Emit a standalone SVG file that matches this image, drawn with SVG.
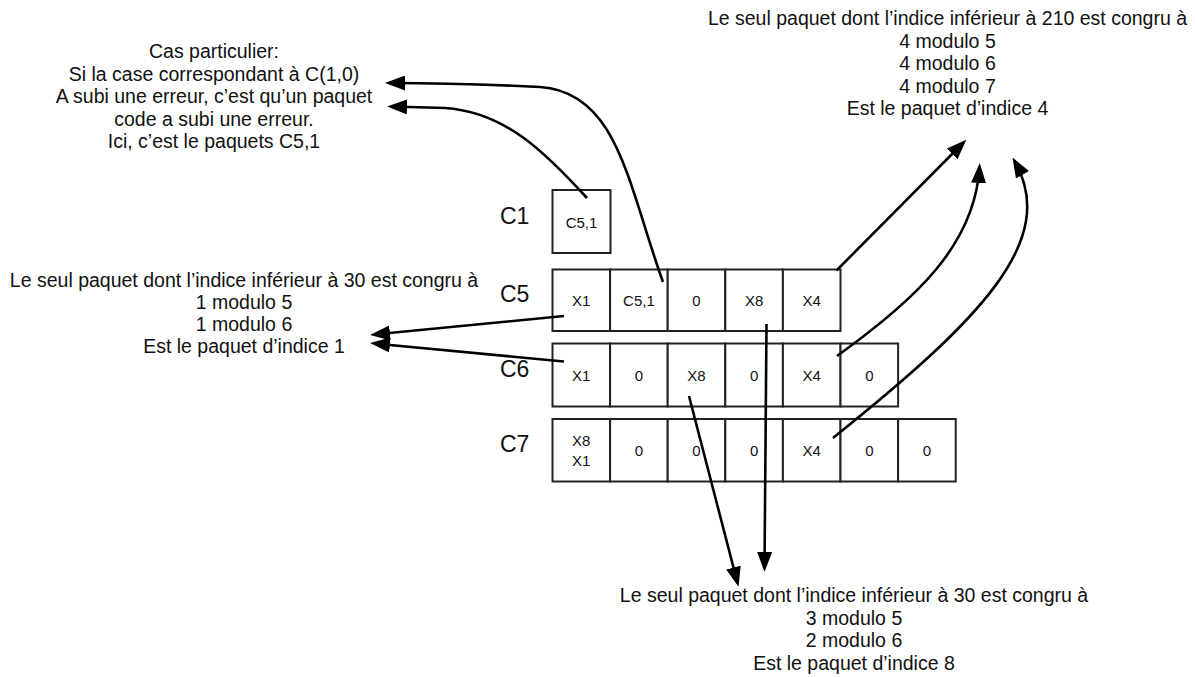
<svg xmlns="http://www.w3.org/2000/svg" width="1195" height="677" viewBox="0 0 1195 677">
<style>
.t{font-family:"Liberation Sans",Arial,sans-serif;font-size:19.5px;fill:#111;text-anchor:middle}
.lbl{font-family:"Liberation Sans",Arial,sans-serif;font-size:23px;fill:#111}
.ct{font-family:"Liberation Sans",Arial,sans-serif;font-size:15px;fill:#111;text-anchor:middle}
.cell{fill:#fff;stroke:#222;stroke-width:2}
.con{fill:none;stroke:#000;stroke-width:2.6;marker-end:url(#ah)}
</style>
<defs>
<marker id="ah" markerUnits="userSpaceOnUse" markerWidth="20" markerHeight="15" refX="16" refY="7.5" orient="auto">
<path d="M0,0 L20,7.5 L0,15 z" fill="#000"/>
</marker>
</defs>
<rect width="1195" height="677" fill="#fff"/>

<g id="note-special">
<text class="t" x="214" y="58">Cas particulier:</text>
<text class="t" x="214" y="80.5">Si la case correspondant à C(1,0)</text>
<text class="t" x="214" y="103">A subi une erreur, c’est qu’un paquet</text>
<text class="t" x="214" y="125.5">code a subi une erreur.</text>
<text class="t" x="214" y="148">Ici, c’est le paquets C5,1</text>
</g>

<g id="note-210">
<text class="t" x="947.5" y="25">Le seul paquet dont l’indice inférieur à 210 est congru à</text>
<text class="t" x="947.5" y="47.5">4 modulo 5</text>
<text class="t" x="947.5" y="70">4 modulo 6</text>
<text class="t" x="947.5" y="92.5">4 modulo 7</text>
<text class="t" x="947.5" y="115">Est le paquet d’indice 4</text>
</g>

<g id="note-1">
<text class="t" x="244" y="287">Le seul paquet dont l’indice inférieur à 30 est congru à</text>
<text class="t" x="244" y="309">1 modulo 5</text>
<text class="t" x="244" y="331">1 modulo 6</text>
<text class="t" x="244" y="353">Est le paquet d’indice 1</text>
</g>

<g id="note-8">
<text class="t" x="854" y="602">Le seul paquet dont l’indice inférieur à 30 est congru à</text>
<text class="t" x="854" y="624.5">3 modulo 5</text>
<text class="t" x="854" y="647">2 modulo 6</text>
<text class="t" x="854" y="669.5">Est le paquet d’indice 8</text>
</g>

<g id="row-C1">
<text class="lbl" x="500" y="224">C1</text>
<rect class="cell" x="552.5" y="190" width="58" height="63"/>
<text class="ct" x="581.5" y="227.5">C5,1</text>
</g>

<g id="row-C5">
<text class="lbl" x="500" y="302">C5</text>
<rect class="cell" x="552.5" y="269.5" width="57.6" height="61.5"/>
<rect class="cell" x="610.1" y="269.5" width="57.6" height="61.5"/>
<rect class="cell" x="667.7" y="269.5" width="57.6" height="61.5"/>
<rect class="cell" x="725.3" y="269.5" width="57.6" height="61.5"/>
<rect class="cell" x="782.9" y="269.5" width="57.6" height="61.5"/>
<text class="ct" x="581.3" y="305.7">X1</text>
<text class="ct" x="638.9" y="305.7">C5,1</text>
<text class="ct" x="696.5" y="305.7">0</text>
<text class="ct" x="754.1" y="305.7">X8</text>
<text class="ct" x="811.7" y="305.7">X4</text>
</g>

<g id="row-C6">
<text class="lbl" x="500" y="377">C6</text>
<rect class="cell" x="552.5" y="343.5" width="57.6" height="63"/>
<rect class="cell" x="610.1" y="343.5" width="57.6" height="63"/>
<rect class="cell" x="667.7" y="343.5" width="57.6" height="63"/>
<rect class="cell" x="725.3" y="343.5" width="57.6" height="63"/>
<rect class="cell" x="782.9" y="343.5" width="57.6" height="63"/>
<rect class="cell" x="840.5" y="343.5" width="57.6" height="63"/>
<text class="ct" x="581.3" y="380.5">X1</text>
<text class="ct" x="638.9" y="380.5">0</text>
<text class="ct" x="696.5" y="380.5">X8</text>
<text class="ct" x="754.1" y="380.5">0</text>
<text class="ct" x="811.7" y="380.5">X4</text>
<text class="ct" x="869.3" y="380.5">0</text>
</g>

<g id="row-C7">
<text class="lbl" x="500" y="452">C7</text>
<rect class="cell" x="552.5" y="419" width="57.6" height="62.5"/>
<rect class="cell" x="610.1" y="419" width="57.6" height="62.5"/>
<rect class="cell" x="667.7" y="419" width="57.6" height="62.5"/>
<rect class="cell" x="725.3" y="419" width="57.6" height="62.5"/>
<rect class="cell" x="782.9" y="419" width="57.6" height="62.5"/>
<rect class="cell" x="840.5" y="419" width="57.6" height="62.5"/>
<rect class="cell" x="898.1" y="419" width="57.6" height="62.5"/>
<text class="ct" x="581.3" y="446">X8</text>
<text class="ct" x="581.3" y="465.5">X1</text>
<text class="ct" x="638.9" y="455.7">0</text>
<text class="ct" x="696.5" y="455.7">0</text>
<text class="ct" x="754.1" y="455.7">0</text>
<text class="ct" x="811.7" y="455.7">X4</text>
<text class="ct" x="869.3" y="455.7">0</text>
<text class="ct" x="926.9" y="455.7">0</text>
</g>

<g id="connectors">
<path class="con" d="M663,282 C628,185 618,92 540,87 C480,84 430,83 389,83"/>
<path class="con" d="M587,198 C545,152 505,112 445,108 L391,106.5"/>
<path class="con" d="M564,316 L374,334.5"/>
<path class="con" d="M564,361.5 L374,343.5"/>
<path class="con" d="M689,396 L737.5,583"/>
<path class="con" d="M766.5,324 L764.5,568"/>
<path class="con" d="M836.5,270.5 L963.5,142.5"/>
<path class="con" d="M837,356 C915,300 975,245 979.5,167"/>
<path class="con" d="M833,438 C980,320 1060,240 1014.5,161"/>
</g>
</svg>
